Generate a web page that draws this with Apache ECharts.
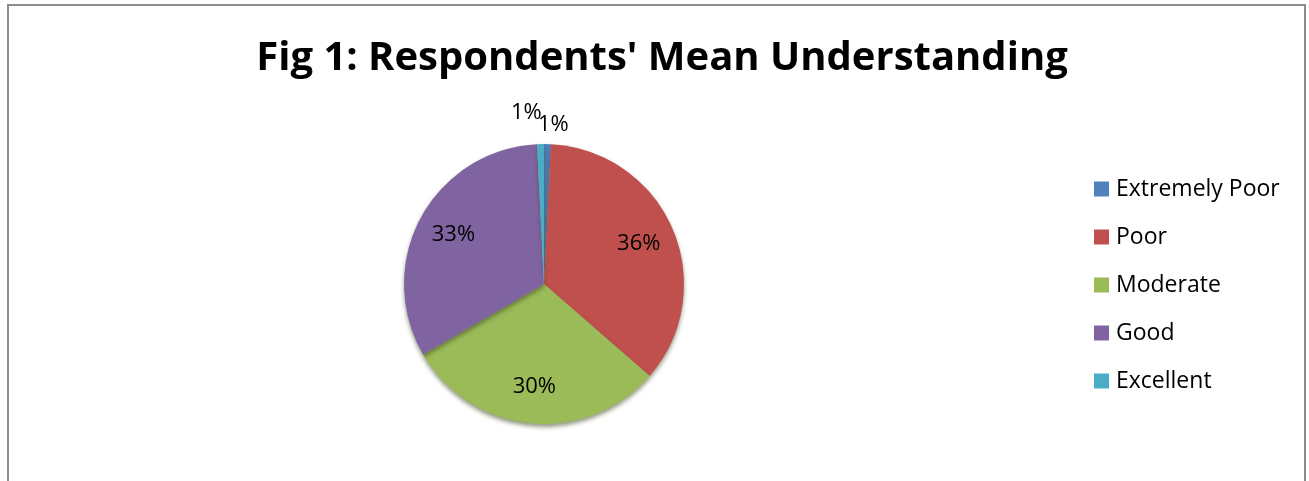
<!DOCTYPE html>
<html>
<head>
<meta charset="utf-8">
<script src="https://cdn.jsdelivr.net/npm/echarts@6/dist/echarts.min.js"></script>
<style>
html,body{margin:0;padding:0;background:#fff;}
#chart{width:1309px;height:481px;}
</style>
</head>
<body>
<div id="chart"></div>
<script>
const titleText = "Fig 1: Respondents' Mean Understanding";
const categories = ['Extremely Poor', 'Poor', 'Moderate', 'Good', 'Excellent'];
const percentValues = [0.8, 35.6, 30.2, 32.6, 0.8];
const colors = ['#4F81BD', '#C0504D', '#9BBB59', '#8064A2', '#4BACC6'];

const FONT = '"Open Sans", "Liberation Sans", sans-serif';
const CX = 544, CY = 284, R = 140;

const total = percentValues.reduce((a, b) => a + b, 0);
const pct = (p) => Math.round(p.value / total * 100) + '%';
const small = (v) => v < 3;
const labelFont = { fontFamily: FONT, fontSize: 22, color: '#000', formatter: pct };

// main slices: the first small slice carries its own (outside) label here
const mainData = categories.map((c, i) => {
  const d = { name: c, value: percentValues[i], itemStyle: { color: colors[i] } };
  if (i === 0 && small(percentValues[i])) {
    d.label = Object.assign({ show: true, position: 'outside', distanceToLabelLine: -10 }, labelFont);
    d.labelLine = { show: false, length: 19, length2: 0 };
  }
  return d;
});

// transparent label carrier ring: labels sit at ~0.7 r like the original
const labelData = categories.map((c, i) => {
  const d = { name: c, value: percentValues[i], itemStyle: { color: 'rgba(0,0,0,0)' } };
  if (small(percentValues[i])) {
    if (i === 0) {
      d.label = { show: false };
    } else {
      d.label = { position: 'outside', distanceToLabelLine: -2 };
      d.labelLine = { show: false, length: 31, length2: 0 };
    }
  }
  return d;
});

const chart = echarts.init(document.getElementById('chart'), null, { renderer: 'canvas' });
chart.setOption({
  animation: false,
  backgroundColor: '#ffffff',
  title: {
    text: titleText,
    left: 657,
    textAlign: 'center',
    top: 34,
    textStyle: { fontFamily: FONT, fontWeight: 'bold', fontSize: 40, color: '#000' }
  },
  legend: {
    orient: 'vertical',
    left: 1089,
    top: 172,
    icon: 'rect',
    itemWidth: 15,
    itemHeight: 15,
    itemGap: 24,
    selectedMode: false,
    data: categories,
    textStyle: { fontFamily: FONT, fontSize: 23, color: '#000', lineHeight: 24, padding: [0, 0, 0, 2] }
  },
  graphic: [{
    type: 'rect',
    shape: { x: 8, y: 5, width: 1297, height: 500 },
    style: { fill: 'none', stroke: '#8c8c8c', lineWidth: 2 },
    silent: true,
    z: 0
  }],
  series: [
    {
      type: 'pie',
      name: 'main',
      center: [CX, CY],
      radius: [0, R],
      startAngle: 90,
      clockwise: true,
      avoidLabelOverlap: false,
      labelLayout: { hideOverlap: false },
      label: { show: false },
      labelLine: { show: false },
      itemStyle: {
        borderWidth: 0,
        shadowBlur: 4,
        shadowOffsetY: 3,
        shadowColor: 'rgba(60,70,30,0.55)'
      },
      emphasis: { disabled: true },
      data: mainData,
      z: 2
    },
    {
      type: 'pie',
      name: 'labels',
      center: [CX, CY],
      radius: [60, R],
      startAngle: 90,
      clockwise: true,
      silent: true,
      avoidLabelOverlap: false,
      labelLayout: { hideOverlap: false },
      legendHoverLink: false,
      label: Object.assign({ show: true, position: 'inside' }, labelFont),
      labelLine: { show: false },
      emphasis: { disabled: true },
      data: labelData,
      z: 3
    }
  ]
});
</script>
</body>
</html>
